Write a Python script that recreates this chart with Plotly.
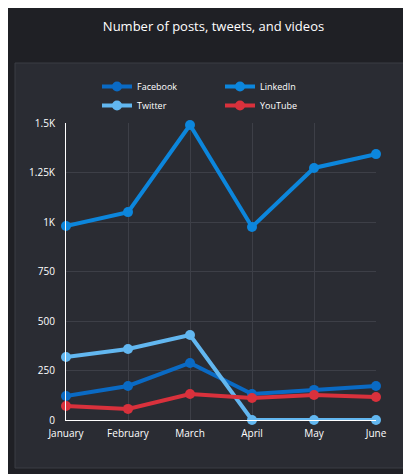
import plotly.graph_objects as go

months = ["January", "February", "March", "April", "May", "June"]
facebook = [121, 172, 288, 131, 152, 172]
linkedin = [980, 1050, 1490, 975, 1273, 1343]
twitter = [318, 359, 429, 0, 0, 0]
youtube = [71, 56, 131, 111, 126, 116]
tick_vals = [0, 250, 500, 750, 1000, 1250, 1500]
tick_text = ["0", "250", "500", "750", "1K", "1.25K", "1.5K"]

series = [("Facebook", facebook, "#0a6ac4"), ("LinkedIn", linkedin, "#0c86dc"),
          ("Twitter", twitter, "#62b7f0"), ("YouTube", youtube, "#d9313c")]
fig = go.Figure()
for name, vals, col in series:
    fig.add_trace(go.Scatter(x=months, y=vals, name=name, mode="lines+markers",
                             line=dict(color=col, width=4), marker=dict(size=10, color=col),
                             cliponaxis=False))

L, R, T, B = 58, 43, 115, 62
pw, ph = 411 - L - R, 474 - T - B
def px(x): return (x - L) / pw
def py(y): return (474 - B - y) / ph

fig.update_layout(
    width=411, height=474, margin=dict(l=L, r=R, t=T, b=B),
    paper_bgcolor="#1f2025", plot_bgcolor="#2a2c33",
    font=dict(family="Open Sans", color="#ffffff", size=10),
    title=dict(text="Number of posts, tweets, and videos", x=0.5, xanchor="center",
               y=1 - 18 / 474, yanchor="middle", font=dict(size=13, color="#ffffff")),
    showlegend=True,
    legend=dict(orientation="h", x=px(212), xanchor="center", y=py(88), yanchor="middle",
                font=dict(size=9), bgcolor="rgba(0,0,0,0)", itemwidth=30,
                entrywidth=78, entrywidthmode="pixels"),
    xaxis=dict(showgrid=True, gridcolor="#3d3f47", showline=True, linecolor="#ffffff",
               linewidth=1, ticks="", tickfont=dict(size=10), range=[0, 5], zeroline=False,
               ticklabelstandoff=4),
    yaxis=dict(range=[0, 1500], tickvals=tick_vals, ticktext=tick_text, showgrid=True,
               gridcolor="#3d3f47", showline=True, linecolor="#ffffff", linewidth=1,
               zeroline=False, ticks="", tickfont=dict(size=10), ticklabelstandoff=8),
    shapes=[dict(type="rect", xref="paper", yref="paper", x0=px(7), x1=px(400), y0=py(460), y1=py(55),
                 fillcolor="#2a2c33", line=dict(color="#3a3c44", width=1), layer="below")],
)
fig.write_html("out.html")
